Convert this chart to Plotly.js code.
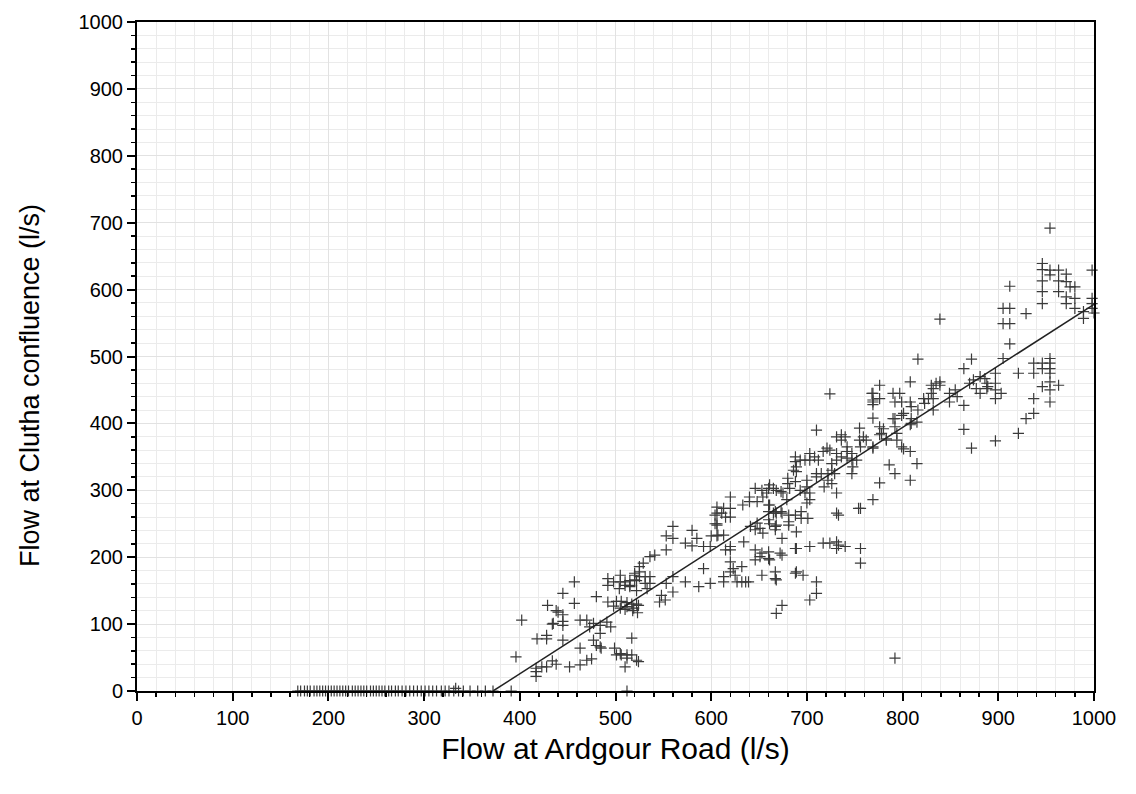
<!DOCTYPE html>
<html>
<head>
<meta charset="utf-8">
<script src="https://cdn.plot.ly/plotly-3.0.1.min.js"></script>
<style>
html,body{margin:0;padding:0;background:#fff;}
#chart{width:1136px;height:794px;}
</style>
</head>
<body>
<div id="chart"></div>
<script>
// Zero-flow readings (y = 0)
const zeroX = [168,171,175,178,181,185,188,191,194,197,200,203,206,209,212,215,218,221,225,228,231,234,237,240,244,247,250,253,256,259,263,266,270,273,277,281,285,289,293,297,301,305,309,313,318,322,326,331,336,341,348,356,364,372,391,512];
const zeroY = zeroX.map(() => 0);

// Observed flows, lower cloud (Ardgour Road x, Clutha confluence y)
const lowX = [402,396,418,428,428,429,434,438,417,417,417,423,428,434,438,
457,445,457,440,445,445,445,445,435,
463,470,477,484,491,495,480,492,
492,492,498,505,505,510,515,515,520,522,522,
501,506,512,517,522,498,505,510,518,523,
473,484,477,484,463,452,463,470,475,480,485,
499,505,512,512,510,517,522,517,501,506,504,
510,515,520,520,525,525,531,536,525,529,531,536,533,541,536,519,524,512,
792,524,333];
const lowY = [106,51,78,83,78,128,100,120,34,29,22,36,36,45,40,
163,146,131,118,114,104,98,76,101,
106,106,101,98,103,96,141,133,
168,158,163,173,163,163,158,165,176,165,150,
134,134,132,130,130,127,124,122,120,117,
96,86,76,66,64,36,39,46,48,68,64,
64,56,54,49,36,79,46,54,54,54,153,
158,156,166,173,178,171,171,171,186,191,161,161,153,203,201,124,128,126,
49,44,4];

// Observed flows, middle cloud
const midX = [553,553,560,560,548,546,552,560,553,560,573,573,580,580,585,587,592,599,592,599,600,606,606,606,606,
613,620,620,615,620,611,620,620,615,620,620,
613,613,627,632,636,639,632,623,625,
633,640,640,648,634,641,646,648,651,654,
646,653,660,665,668,673,661,654,661,
660,667,667,674,
646,651,660,660,653,667,667,672,
674,679,688,688,668,674,
680,688,686,688,688,680,
604,604,675,658,
660,660,665,668,673,661,667,668,
681,688,681,681,694,694,701,700,689,
674,661,653,646,668,689,696,710,710,703,
689,703,717,724,731,731,733,740,756,756,733,756,
613,607,606];
const midY = [211,161,171,148,143,133,136,246,232,228,163,221,217,240,228,156,216,216,183,161,232,232,248,275,266,
273,273,290,260,260,266,216,211,211,193,178,
171,163,163,163,163,163,186,183,173,
278,290,283,283,223,246,241,251,243,236,
303,300,303,303,300,298,308,290,278,
268,268,246,266,
211,201,208,198,173,178,168,206,
228,286,213,176,116,128,
310,313,330,343,350,318,
263,250,296,296,
278,256,266,266,268,250,241,248,
263,263,253,248,268,258,258,281,238,
203,196,206,196,166,178,173,163,146,136,
213,216,221,221,223,213,218,216,213,191,263,273,
233,233,250];

// Observed flows, upper cloud
const highX = [682,693,698,703,703,700,700,689,689,693,698,703,703,708,712,
710,724,
710,715,710,718,722,726,722,726,729,726,731,731,724,717,721,731,736,736,740,742,742,736,742,747,747,752,755,755,759,762,756,748,747,731,
768,769,769,769,769,754,769,731,
776,769,769,776,790,797,792,799,808,808,809,816,822,827,830,830,832,839,839,832,849,855,857,849,792,801,809,809,815,780,778,783,794,801,
823,832,835,
790,799,808,792,783,776,776,769,794,799,808,815,786,792,776,808];
const highY = [303,300,296,296,286,305,315,328,335,345,345,345,355,350,345,
390,444,
325,325,320,305,315,310,325,330,325,340,345,355,360,358,363,380,383,375,380,365,358,350,348,345,355,345,375,393,380,375,365,335,325,296,
445,435,428,408,363,273,286,266,
457,445,432,437,445,445,432,432,462,432,425,420,437,437,457,445,437,462,457,420,445,450,440,432,407,415,407,400,402,392,385,375,385,362,
430,452,460,
407,412,398,395,377,395,383,365,375,365,358,340,338,325,311,315];

// Observed flows, top-right cloud
const topX = [954,946,946,954,963,954,971,946,963,971,975,980,946,963,971,980,946,971,980,998,
989,989,998,998,998,1000,
929,912,905,912,905,912,912,905,921,839,816,872,864,
937,937,946,946,954,954,954,954,946,954,954,963,954,937,937,929,921,
870,874,881,886,888,889,881,897,897,897,897,903,888,877,
864,864,872,897];
const topY = [692,639,630,629,629,622,623,613,613,612,604,604,597,597,589,587,579,579,572,629,
567,557,587,579,572,565,
564,605,572,572,549,549,519,497,475,556,496,496,482,
490,475,490,482,497,490,482,475,455,462,450,457,432,437,415,407,385,
460,465,470,467,460,455,445,475,460,450,437,445,452,452,
427,391,363,374];

// Fitted line end points
const fitX = [372, 1000];
const fitY = [0, 578];

const tickVals = [0,100,200,300,400,500,600,700,800,900,1000];
const tickText = tickVals.map(String);
const xTitle = 'Flow at Ardgour Road (l/s)';
const yTitle = 'Flow at Clutha confluence (l/s)';

const markerStyle = {
  symbol: 'cross-thin',
  size: 8,
  color: '#3a3a3a',
  line: {width: 1.2, color: '#3a3a3a'}
};

function pts(xs, ys) {
  return {x: xs, y: ys, type: 'scatter', mode: 'markers', marker: markerStyle, hoverinfo: 'x+y', cliponaxis: false};
}

const traces = [
  pts(zeroX, zeroY),
  pts(lowX, lowY),
  pts(midX, midY),
  pts(highX, highY),
  pts(topX, topY),
  {x: fitX, y: fitY, type: 'scatter', mode: 'lines', line: {color: '#222', width: 1.5}, hoverinfo: 'skip'}
];

const fontFam = '"Liberation Sans", Arial, sans-serif';
const axisCommon = {
  range: [0, 1000],
  tickmode: 'array',
  tickvals: tickVals,
  ticktext: tickText,
  ticks: 'outside',
  ticklen: 8,
  tickwidth: 2,
  tickcolor: '#000',
  showline: true,
  linecolor: '#000',
  linewidth: 2,
  mirror: true,
  showgrid: true,
  gridcolor: '#e2e2e2',
  gridwidth: 1,
  zeroline: false,
  tickfont: {family: fontFam, size: 20, color: '#000'},
  minor: {dtick: 20, ticks: 'outside', ticklen: 4, tickwidth: 1.5, tickcolor: '#000', showgrid: true, gridcolor: '#ebebeb', gridwidth: 1}
};

const layout = {
  width: 1136,
  height: 794,
  margin: {l: 137, r: 42, t: 22, b: 103},
  paper_bgcolor: '#fff',
  plot_bgcolor: '#fff',
  showlegend: false,
  xaxis: Object.assign({}, axisCommon, {
    title: {text: xTitle, font: {family: fontFam, size: 30, color: '#000'}, standoff: 10}
  }),
  yaxis: Object.assign({}, axisCommon, {
    title: {text: ''}
  }),
  annotations: [{
    text: yTitle,
    xref: 'paper', yref: 'paper',
    x: -0.112, y: 0.457,
    xanchor: 'center', yanchor: 'middle',
    textangle: -90,
    showarrow: false,
    font: {family: fontFam, size: 27, color: '#000'}
  }]
};

Plotly.newPlot('chart', traces, layout, {displayModeBar: false, staticPlot: true});
</script>
</body>
</html>
